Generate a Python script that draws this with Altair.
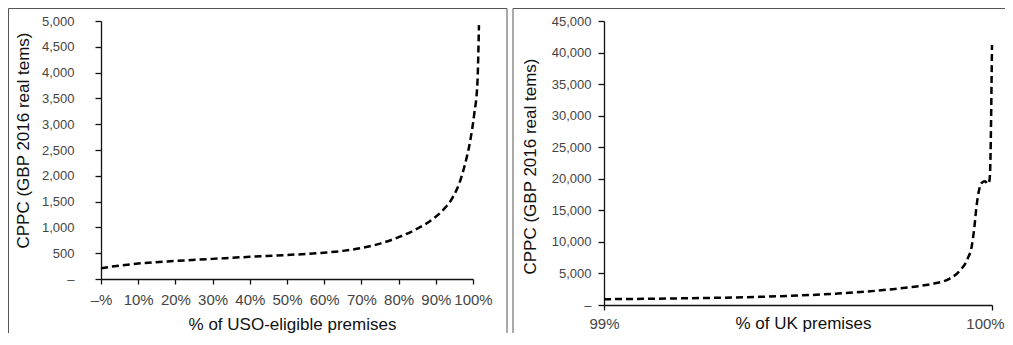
import altair as alt
import pandas as pd

# Left panel: % of USO-eligible premises vs CPPC
uso_pct = [0, 5, 10, 20, 30, 40, 50, 60, 65, 70, 75, 80, 85, 89, 92, 94.7, 96.5, 97.8, 99.2, 100.3, 101.2, 101.6]
uso_cppc = [210, 260, 300, 350, 390, 430, 465, 510, 545, 600, 685, 810, 975, 1150, 1340, 1600, 1890, 2210, 2660, 3180, 3820, 4920]

# Right panel: % of UK premises vs CPPC
uk_pct = [99.0, 99.1, 99.2, 99.3, 99.4, 99.5, 99.6, 99.65, 99.7, 99.75, 99.8, 99.85, 99.89, 99.918,
          99.937, 99.948, 99.954, 99.96, 99.967, 99.973, 99.982, 99.989, 99.993, 99.995, 100.0]
uk_cppc = [920, 980, 1050, 1150, 1290, 1500, 1800, 2000, 2250, 2550, 2900, 3400, 4150, 5500,
           7300, 9400, 12000, 15600, 18300, 19300, 19600, 19200, 19600, 21000, 41200]

left_x_ticks = [0, 10, 20, 30, 40, 50, 60, 70, 80, 90, 100]
left_y_ticks = [0, 500, 1000, 1500, 2000, 2500, 3000, 3500, 4000, 4500, 5000]
right_x_ticks = [99, 100]
right_y_ticks = [0, 5000, 10000, 15000, 20000, 25000, 30000, 35000, 40000, 45000]

left_df = pd.DataFrame({"pct": uso_pct, "cppc": uso_cppc})
right_df = pd.DataFrame({"pct": uk_pct, "cppc": uk_cppc})

FONT = "Liberation Sans"
Y_TITLE = "CPPC (GBP 2016 real tems)"
y_label_expr = "datum.value == 0 ? '\u2013\u00a0' : format(datum.value, ',')"

axis_common = dict(
    grid=False,
    domainColor="#111",
    domainWidth=1.3,
    tickColor="#111",
    tickWidth=1.3,
    labelColor="#444",
    labelFont=FONT,
    titleFont=FONT,
    titleColor="#111",
    titleFontWeight="normal",
    labelOverlap=False,
    labelFlush=False,
)

line_style = dict(color="black", strokeWidth=2.5, strokeDash=[7, 4], interpolate="monotone")
border_style = dict(color="#555", strokeWidth=1)
one_row = alt.Data(values=[{"k": 1}])


def borders(left_x, right_x, top_y, bottom_y, with_right=True):
    layers = [
        alt.Chart(one_row).mark_rule(**border_style).encode(
            x=alt.value(left_x), x2=alt.value(right_x), y=alt.value(top_y)),
        alt.Chart(one_row).mark_rule(**border_style).encode(
            x=alt.value(left_x), y=alt.value(top_y), y2=alt.value(bottom_y)),
    ]
    if with_right:
        layers.append(alt.Chart(one_row).mark_rule(**border_style).encode(
            x=alt.value(right_x), y=alt.value(top_y), y2=alt.value(bottom_y)))
    return layers


left_line = alt.Chart(left_df).mark_line(**line_style).encode(
    x=alt.X("pct:Q", scale=alt.Scale(domain=[0, 100], nice=False, zero=False),
            axis=alt.Axis(values=left_x_ticks,
                          labelExpr="datum.value == 0 ? '\u2013%' : datum.value + '%'",
                          title="% of USO-eligible premises", titleFontSize=17,
                          labelFontSize=15, tickSize=5, labelPadding=8,
                          titleBaseline="alphabetic", titleY=50, titleX=191,
                          titleAlign="center", **axis_common)),
    y=alt.Y("cppc:Q", scale=alt.Scale(domain=[0, 5000], nice=False),
            axis=alt.Axis(values=left_y_ticks, labelExpr=y_label_expr,
                          title=Y_TITLE, titleFontSize=17, labelFontSize=13,
                          tickSize=6, labelPadding=21,
                          titleBaseline="alphabetic", titleX=-73, titleY=119,
                          titleAlign="center", titleAngle=270, **axis_common)),
)
left = alt.layer(left_line, *borders(-92.5, 406, -12.5, 330)).properties(width=372, height=258)

right_line = alt.Chart(right_df).mark_line(**line_style).encode(
    x=alt.X("pct:Q", scale=alt.Scale(domain=[99, 100], nice=False, zero=False),
            axis=alt.Axis(values=right_x_ticks, labelExpr="datum.value + '%'",
                          labelOffset={"condition": {"test": "datum.value >= 100", "value": -7}, "value": 0},
                          title="% of UK premises", titleFontSize=17,
                          labelFontSize=15, tickSize=5, labelPadding=6,
                          titleBaseline="alphabetic", titleY=23, titleX=199,
                          titleAlign="center", **axis_common)),
    y=alt.Y("cppc:Q", scale=alt.Scale(domain=[0, 45000], nice=False),
            axis=alt.Axis(values=right_y_ticks, labelExpr=y_label_expr,
                          title=Y_TITLE, titleFontSize=17, labelFontSize=13,
                          tickSize=6, labelPadding=7,
                          titleBaseline="alphabetic", titleX=-69, titleY=145,
                          titleAlign="center", titleAngle=270, **axis_common)),
)
right = alt.layer(right_line, *borders(-91, 430, -12.5, 330, with_right=False)).properties(width=388, height=284)

chart = alt.hconcat(left, right, spacing=131, bounds="flush").configure_view(
    stroke="transparent"
).properties(
    background="white",
    autosize=alt.AutoSizeParams(type="none"),
    padding={"left": 93, "top": 13, "right": 904, "bottom": 312},
)

chart.save("out.html", embed_options={"renderer": "svg", "actions": False})
